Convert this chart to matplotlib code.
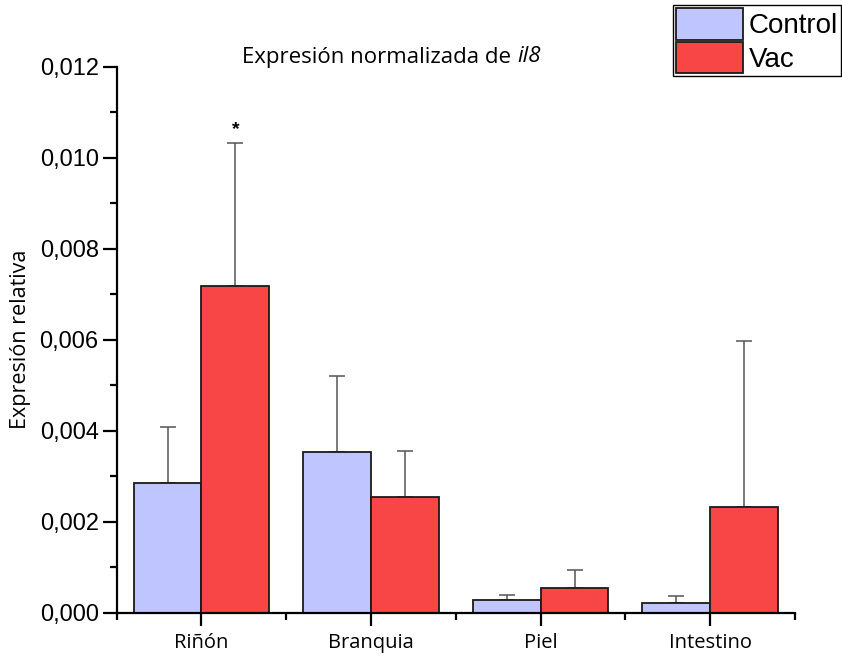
import matplotlib
matplotlib.use("Agg")
import matplotlib.pyplot as plt
import numpy as np
from matplotlib.ticker import FixedLocator, FuncFormatter, MultipleLocator
from matplotlib.patches import Patch

categories = ["Riñón", "Branquia", "Piel", "Intestino"]
control = [0.00284, 0.00353, 0.000264, 0.000213]
control_err = [0.00123, 0.00166, 0.00012, 0.00014]
vac = [0.00718, 0.00253, 0.00053, 0.00233]
vac_err = [0.00314, 0.00102, 0.00040, 0.00363]
significance = ["*", "", "", ""]
series_names = ["Control", "Vac"]

c_control = "#BFC6FF"
c_vac = "#F84545"
edge = "#1a1a1a"
err_col = "#555555"

W, H = 842, 657
fig = plt.figure(figsize=(W / 100, H / 100), dpi=100)
ax = fig.add_axes([116.7 / W, (H - 612.5) / H, (795 - 116.7) / W, (612.5 - 66.7) / H])

x = np.arange(len(categories))
w = 0.4
ax.bar(x - w / 2, control, width=w, color=c_control, edgecolor=edge, linewidth=1.3, zorder=2)
ax.bar(x + w / 2, vac, width=w, color=c_vac, edgecolor=edge, linewidth=1.3, zorder=2)

zeros = np.zeros(len(categories))
ax.errorbar(x - w / 2, control, yerr=[zeros, control_err], fmt="none", ecolor=err_col,
            elinewidth=1.1, capsize=6, capthick=1.1, zorder=1)
ax.errorbar(x + w / 2, vac, yerr=[zeros, vac_err], fmt="none", ecolor=err_col,
            elinewidth=1.1, capsize=6, capthick=1.1, zorder=1)

for xi, v, e, s in zip(x, vac, vac_err, significance):
    if s:
        ax.text(xi + w / 2, v + e + 0.00010, s, ha="center", va="bottom",
                fontsize=14, fontfamily="Liberation Sans", fontweight="bold")

ax.set_xlim(-0.5, 3.5)
ax.set_ylim(0, 0.012)

for sp in ("top", "right"):
    ax.spines[sp].set_visible(False)
for sp in ("left", "bottom"):
    ax.spines[sp].set_linewidth(1.6)
    ax.spines[sp].set_color("black")

ax.yaxis.set_major_locator(MultipleLocator(0.002))
ax.yaxis.set_minor_locator(MultipleLocator(0.001))
ax.yaxis.set_major_formatter(FuncFormatter(lambda v, p: f"{v:.3f}".replace(".", ",")))
ax.set_xticks(x)
ax.set_xticklabels(categories, fontfamily="Open Sans", fontsize=14.5)
ax.xaxis.set_minor_locator(FixedLocator(np.arange(-0.5, 3.6, 1.0)))

ax.tick_params(axis="y", which="major", direction="out", length=10, width=1.6, labelsize=17, pad=3)
ax.tick_params(axis="y", which="minor", direction="out", length=5, width=1.6)
ax.tick_params(axis="x", which="major", direction="out", length=9, width=1.6, pad=6)
ax.tick_params(axis="x", which="minor", direction="out", length=5, width=1.6)
for lbl in ax.get_yticklabels():
    lbl.set_fontfamily("Liberation Sans")

ax.set_ylabel("Expresión relativa", fontfamily="Open Sans", fontsize=15.5)
ax.yaxis.set_label_coords((20 - 116.7) / (795 - 116.7), 0.5)
ax.yaxis.label.set_va("center")

# Title with italic gene name, centred as one line
fs_title = 16
t1 = fig.text(0.0, 1 - 57 / H, "Expresión normalizada de ", ha="left", va="center",
              fontfamily="Open Sans", fontsize=fs_title)
t2 = fig.text(0.0, 1 - 57 / H, "il8", ha="left", va="center", fontfamily="Open Sans",
              fontsize=fs_title, style="italic")
fig.canvas.draw()
r = fig.canvas.get_renderer()
bb1 = t1.get_window_extent(r)
bb2 = t2.get_window_extent(r)
start = 391.5 - (bb1.width + bb2.width) / 2
t1.set_x(start / W)
t2.set_x((start + bb1.width) / W)

handles = [Patch(facecolor=c_control, edgecolor=edge, linewidth=1.3),
           Patch(facecolor=c_vac, edgecolor=edge, linewidth=1.3)]
leg = fig.legend(handles, series_names, loc="upper right", bbox_to_anchor=(841 / W, 1 - 5 / H),
                 frameon=True, fancybox=False, edgecolor="black", framealpha=1,
                 prop={"family": "Liberation Sans", "size": 20}, handlelength=2.4,
                 handleheight=1.35, handletextpad=0.2, labelspacing=0.08,
                 borderpad=0.12, borderaxespad=0)
leg.get_frame().set_linewidth(1.0)

fig.savefig("out.png", dpi=100, facecolor="white")
